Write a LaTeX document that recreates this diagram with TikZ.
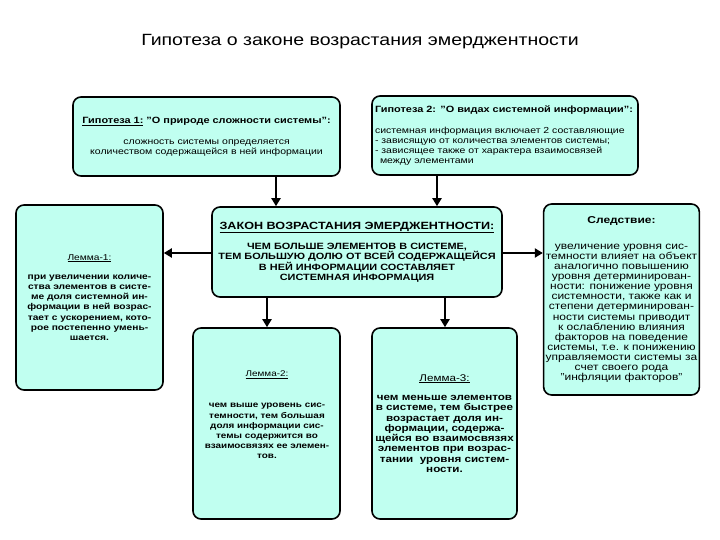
\documentclass[tikz,border=0pt]{standalone}
\usepackage{fontspec}
\setmainfont[FakeStretch=1.2]{Liberation Sans}
\usepackage{tikz}
\usetikzlibrary{arrows.meta}

\definecolor{boxfill}{RGB}{192,255,240}

\begin{document}
\begin{tikzpicture}[
        x=1pt, y=-1pt,
        box/.style={draw=black, line width=1.6pt, fill=boxfill, rounded corners=8pt,
                inner sep=2pt, align=center},
        arr/.style={line width=2pt, -{Triangle[width=9pt,length=8pt]}},
        hyp/.style={font=\fontsize{8.75}{10}\selectfont},
        lem/.style 2 args={font=\fontsize{#1}{#2}\selectfont\bfseries}
    ]
    \useasboundingbox (0,0) rectangle (720,540);

    % Title
    \node[font=\fontsize{16.25}{18}\selectfont] (title) at (360,42) {Гипотеза о законе возрастания эмерджентности};

    % Hypotheses
    \node[box, minimum width=267pt, minimum height=79pt, hyp] (h1) at (206.5,136.5)
        {{\fontsize{9.1}{10}\selectfont\bfseries\underline{Гипотеза 1:} "О природе сложности системы":}\\[11pt]
         сложность системы определяется\\
         количеством содержащейся в ней информации};
    \node[box, minimum width=266pt, minimum height=79pt, hyp, align=left,
          text width=260pt] (h2) at (505,135.5)
        {{\fontsize{9.1}{10}\selectfont\bfseries Гипотеза 2: "О видах системной информации":}\\[11pt]
         системная информация включает 2 составляющие\\
         - зависящую от количества элементов системы;\\
         - зависящее также от характера взаимосвязей\\
         \hspace*{5pt}между элементами};

    % Law
    \node[box, minimum width=290pt, minimum height=90pt,
          font=\fontsize{9.1}{10}\selectfont\bfseries] (law) at (357,252)
        {{\fontsize{10.5}{12}\selectfont\underline{ЗАКОН ВОЗРАСТАНИЯ ЭМЕРДЖЕНТНОСТИ:}}\\[9pt]
         ЧЕМ БОЛЬШЕ ЭЛЕМЕНТОВ В СИСТЕМЕ,\\
         ТЕМ БОЛЬШУЮ ДОЛЮ ОТ ВСЕЙ СОДЕРЖАЩЕЙСЯ\\
         В НЕЙ ИНФОРМАЦИИ СОСТАВЛЯЕТ\\
         СИСТЕМНАЯ ИНФОРМАЦИЯ};

    % Lemmas
    \node[box, minimum width=147pt, minimum height=185pt, lem={8.5}{10.2}] (l1) at (89.5,297.5)
        {{\mdseries\underline{Лемма-1:}}\\[9pt]
         при увеличении количе-\\
         ства элементов в систе-\\
         ме доля системной ин-\\
         формации в ней возрас-\\
         тает с ускорением, кото-\\
         рое постепенно умень-\\
         шается.};
    \node[box, minimum width=147pt, minimum height=191pt] (l2) at (266.5,423.5) {};
    \node[lem={8.25}{10.2}, align=center] (l2text) at (267,415)
        {{\mdseries\underline{Лемма-2:}}\\[21pt]
         чем выше уровень сис-\\
         темности, тем большая\\
         доля информации сис-\\
         темы содержится во\\
         взаимосвязях ее элемен-\\
         тов.};
    \node[box, minimum width=145pt, minimum height=191pt, lem={9.7}{10.3}] (l3) at (444.5,423.5)
        {{\mdseries\underline{Лемма-3:}}\\[9pt]
         чем меньше элементов\\
         в системе, тем быстрее\\
         возрастает доля ин-\\
         формации, содержа-\\
         щейся во взаимосвязях\\
         элементов при возрас-\\
         тании\ \ уровня систем-\\
         ности.};

    % Corollary
    \node[box, minimum width=147pt, minimum height=191pt,
          font=\fontsize{10}{10.1}\selectfont] (sl) at (621.5,299.5)
        {\textbf{Следствие:}\\[16pt]
         увеличение уровня сис-\\
         темности влияет на объект\\
         аналогично повышению\\
         уровня детерминирован-\\
         ности: понижение уровня\\
         системности, также как и\\
         степени детерминирован-\\
         ности системы приводит\\
         к ослаблению влияния\\
         факторов на поведение\\
         системы, т.е. к понижению\\
         управляемости системы за\\
         счет своего рода\\
         "инфляции факторов"};

    % Arrows
    \draw[arr] (h1.south -| 276,0) -- (law.north -| 276,0);
    \draw[arr] (h2.south -| 437,0) -- (law.north -| 437,0);
    \draw[arr] (law.west |- 0,253) -- (l1.east |- 0,253);
    \draw[arr] (law.east |- 0,253) -- (sl.west |- 0,253);
    \draw[arr] (law.south -| 267,0) -- (l2.north -| 267,0);
    \draw[arr] (law.south -| 445,0) -- (l3.north -| 445,0);
\end{tikzpicture}
\end{document}
